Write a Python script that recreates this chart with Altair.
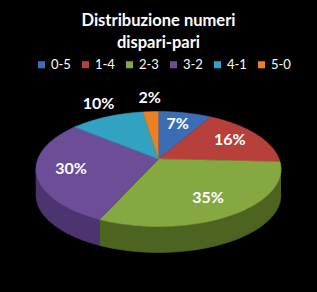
import json
import altair as alt
import pandas as pd

# ---- data ----
categories = ["0-5", "1-4", "2-3", "3-2", "4-1", "5-0"]
values = [7, 16, 35, 30, 10, 2]
top_colors = ["#3A6DB5", "#B8403B", "#86A840", "#6B4D98", "#32A2C2", "#EC8025"]
side_colors = ["#24477A", "#7A2826", "#4D6420", "#4C3470", "#1F6F86", "#A55518"]
outside_labels = ["4-1", "5-0"]
title_lines = ["Distribuzione  numeri", "dispari-pari"]

# ---- layout ----
W, H = 317, 292
CX, CY = 158.5, 169.0
RX, RY = 122.5, 57.5
APEX_Y = 159.0
LABEL_CY = 164.0
DEPTH = 26.0
STEP = 0.02
FONT = "Lato"

df = pd.DataFrame({"cat": categories, "value": values, "idx": list(range(len(categories)))})

xs = alt.X("px:Q", scale=alt.Scale(domain=[0, W], nice=False, zero=False), axis=None)
ys = alt.Y("py:Q", scale=alt.Scale(domain=[H, 0], nice=False, zero=False), axis=None)

base = (
    alt.Chart(df)
    .transform_joinaggregate(total="sum(value)")
    .transform_window(cum="sum(value)", sort=[alt.SortField("idx")], frame=[None, 0])
    .transform_calculate(
        a1="2*PI*(datum.cum - datum.value)/datum.total",
        a2="2*PI*datum.cum/datum.total",
    )
)

# side walls (front half only)
side = (
    base.transform_calculate(b1="max(datum.a1, PI/2)", b2="min(datum.a2, 3*PI/2)")
    .transform_filter("datum.b2 > datum.b1")
    .transform_calculate(s=f"sequence(0, {2 + STEP * 1.5}, {STEP})")
    .transform_flatten(["s"])
    .transform_calculate(
        u=f"datum.s < {1 + STEP / 2} ? min(datum.s, 1) : max(0, {2 + STEP} - datum.s)",
        ang="datum.b1 + datum.u*(datum.b2 - datum.b1)",
        px=f"{CX} + {RX}*sin(datum.ang)",
        py=f"{CY} - {RY}*cos(datum.ang) + (datum.s < {1 + STEP / 2} ? 0 : {DEPTH})",
    )
    .mark_line(strokeWidth=0.6)
    .encode(
        x=xs,
        y=ys,
        fill=alt.Fill("cat:N", scale=alt.Scale(domain=categories, range=side_colors), legend=None),
        stroke=alt.Stroke("cat:N", scale=alt.Scale(domain=categories, range=side_colors), legend=None),
        order=alt.Order("s:Q"),
        detail="cat:N",
    )
)

# top faces
top = (
    base.transform_calculate(t=f"sequence({-STEP}, {1 + STEP / 2}, {STEP})")
    .transform_flatten(["t"])
    .transform_calculate(
        ang="datum.a1 + max(datum.t, 0)*(datum.a2 - datum.a1)",
        px=f"datum.t < -0.01 ? {CX} : {CX} + {RX}*sin(datum.ang)",
        py=f"datum.t < -0.01 ? {APEX_Y} : {CY} - {RY}*cos(datum.ang)",
    )
    .mark_line(strokeWidth=0.6)
    .encode(
        x=xs,
        y=ys,
        fill=alt.Fill(
            "cat:N",
            scale=alt.Scale(domain=categories, range=top_colors),
            legend=alt.Legend(
                orient="none",
                legendX=35,
                legendY=58,
                direction="horizontal",
                title=None,
                symbolType="square",
                symbolSize=50,
                symbolStrokeWidth=0,
                labelColor="white",
                labelFont=FONT,
                labelFontSize=13,
                labelOffset=3,
                columnPadding=8,
                padding=0,
            ),
        ),
        stroke=alt.Stroke("cat:N", scale=alt.Scale(domain=categories, range=top_colors), legend=None),
        order=alt.Order("t:Q"),
        detail="cat:N",
    )
)

labels = (
    base.transform_calculate(
        mid="(datum.a1 + datum.a2)/2",
        r=f"indexof({json.dumps(outside_labels)}, datum.cat) >= 0 ? 1.15 : 0.72",
        px=f"{CX} + {RX}*datum.r*sin(datum.mid)",
        py=f"{LABEL_CY} - {RY}*datum.r*cos(datum.mid)",
        label="datum.value + '%'",
    )
    .mark_text(font=FONT, fontWeight="bold", fontSize=16, color="white")
    .encode(x=xs, y=ys, text="label:N")
)

chart = (
    alt.layer(side, top, labels)
    .resolve_scale(fill="independent", stroke="independent")
    .properties(
        width=W,
        height=H,
        padding=0,
        autosize=alt.AutoSizeParams(type="none"),
        background="black",
        title=alt.TitleParams(
            text=title_lines,
            color="white",
            font=FONT,
            fontSize=16.5,
            fontWeight="bold",
            anchor="middle",
            baseline="top",
            offset=0,
            dy=51,
            lineHeight=22,
        ),
    )
    .configure_view(stroke=None)
)

chart.save("out.html", embed_options={"renderer": "svg", "actions": False})
